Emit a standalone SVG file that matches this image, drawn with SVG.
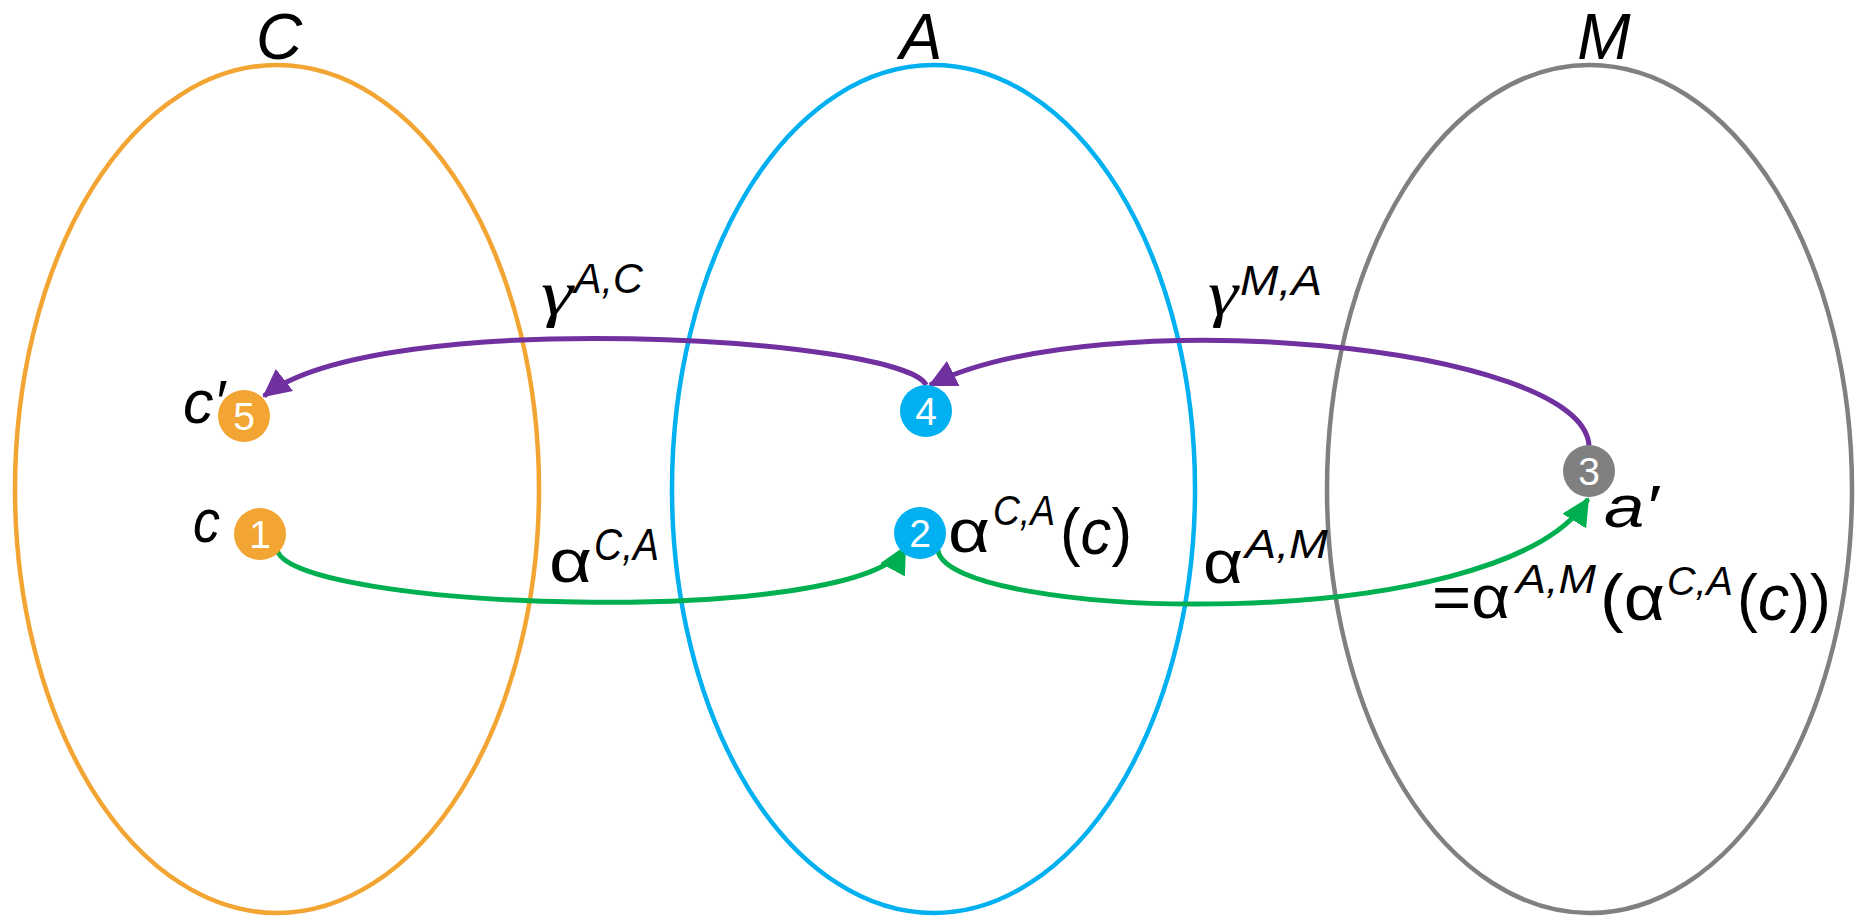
<svg xmlns="http://www.w3.org/2000/svg" width="1855" height="917" viewBox="0 0 1855 917">
<style>
.set{fill:none;stroke-width:4.5}
.t{font-family:"Liberation Sans",Arial,sans-serif;fill:#000}
.i{font-style:italic}
.gm{font-family:"Liberation Serif","Times New Roman",serif;font-style:italic;fill:#000}
.num{font-family:"Liberation Sans",Arial,sans-serif;font-size:39px;fill:#fff;text-anchor:middle}
.g{fill:none;stroke:#00B050;stroke-width:5}
.p{fill:none;stroke:#7030A0;stroke-width:5}
</style>
<defs>
<marker id="ag" viewBox="0 0 28 28" refX="26" refY="14" markerWidth="28" markerHeight="28" markerUnits="userSpaceOnUse" orient="auto"><path d="M0,0 L28,14 L0,28 z" fill="#00B050"/></marker>
<marker id="ap" viewBox="0 0 28 28" refX="26" refY="14" markerWidth="28" markerHeight="28" markerUnits="userSpaceOnUse" orient="auto"><path d="M0,0 L28,14 L0,28 z" fill="#7030A0"/></marker>
</defs>
<rect width="1855" height="917" fill="#fff"/>
<g id="set-C"><ellipse class="set" cx="277" cy="489" rx="262" ry="424" stroke="#F3A533"/><text class="t i" x="279" y="59" font-size="64" text-anchor="middle">C</text></g>
<g id="set-A"><ellipse class="set" cx="933.5" cy="489" rx="261.5" ry="424" stroke="#00B0F0"/><text class="t i" x="921" y="59" font-size="64" text-anchor="middle">A</text></g>
<g id="set-M"><ellipse class="set" cx="1589.5" cy="489" rx="262.5" ry="424" stroke="#808080"/><text class="t i" x="1604" y="59" font-size="64" text-anchor="middle">M</text></g>
<g id="connectors">
<path class="g" d="M277,549 C285,610 860,630 905,547" marker-end="url(#ag)"/>
<path class="g" d="M938,550 C945,620 1500,640 1588,499" marker-end="url(#ag)"/>
<path class="p" d="M926,385 C905,338 380,305 264,396" marker-end="url(#ap)"/>
<path class="p" d="M1589,446 C1585,345 1100,300 930,385" marker-end="url(#ap)"/>
<g id="label-gAC"><text class="gm" x="541" y="314" font-size="64" textLength="32" lengthAdjust="spacingAndGlyphs">γ</text><text class="t i" x="574" y="293" font-size="42" textLength="69" lengthAdjust="spacingAndGlyphs">A,C</text></g>
<g id="label-aCA"><text class="t" x="549" y="582" font-size="62" textLength="43" lengthAdjust="spacingAndGlyphs">α</text><text class="t i" x="594" y="560" font-size="44" textLength="65" lengthAdjust="spacingAndGlyphs">C,A</text></g>
<g id="label-gMA"><text class="gm" x="1208" y="314" font-size="64" textLength="30" lengthAdjust="spacingAndGlyphs">γ</text><text class="t i" x="1240" y="295" font-size="42" textLength="82" lengthAdjust="spacingAndGlyphs">M,A</text></g>
<g id="label-aAM"><text class="t" x="1203" y="583" font-size="62" textLength="40" lengthAdjust="spacingAndGlyphs">α</text><text class="t i" x="1245" y="558" font-size="40" textLength="83" lengthAdjust="spacingAndGlyphs">A,M</text></g>
</g>
<g id="node-1"><circle cx="260" cy="534" r="26" fill="#F3A533"/><text class="num" x="260" y="548">1</text><text class="t i" x="193" y="542" font-size="62" textLength="27" lengthAdjust="spacingAndGlyphs">c</text></g>
<g id="node-5"><circle cx="244" cy="416" r="26" fill="#F3A533"/><text class="num" x="244" y="430">5</text><text class="t i" x="183" y="423" font-size="62" textLength="42" lengthAdjust="spacingAndGlyphs">c′</text></g>
<g id="node-2"><circle cx="920" cy="533" r="26" fill="#00B0F0"/><text class="num" x="920" y="547">2</text>
<text class="t" x="948" y="552" font-size="62" textLength="42" lengthAdjust="spacingAndGlyphs">α</text><text class="t i" x="993" y="525" font-size="42" textLength="62" lengthAdjust="spacingAndGlyphs">C,A</text><text class="t" x="1060" y="554" font-size="64" textLength="72" lengthAdjust="spacingAndGlyphs">(<tspan class="i">c</tspan>)</text></g>
<g id="node-4"><circle cx="926" cy="411" r="26" fill="#00B0F0"/><text class="num" x="926" y="425">4</text></g>
<g id="node-3"><circle cx="1589" cy="471" r="26" fill="#808080"/><text class="num" x="1589" y="485">3</text>
<text class="t i" x="1604" y="527" font-size="60" textLength="54" lengthAdjust="spacingAndGlyphs">a′</text>
<text class="t" x="1432" y="618" font-size="62" textLength="78" lengthAdjust="spacingAndGlyphs">=α</text><text class="t i" x="1516" y="593" font-size="40" textLength="80" lengthAdjust="spacingAndGlyphs">A,M</text><text class="t" x="1600" y="620" font-size="64" textLength="65" lengthAdjust="spacingAndGlyphs">(α</text><text class="t i" x="1667" y="595" font-size="40" textLength="66" lengthAdjust="spacingAndGlyphs">C,A</text><text class="t" x="1737" y="620" font-size="64" textLength="94" lengthAdjust="spacingAndGlyphs">(<tspan class="i">c</tspan>))</text></g>
</svg>
